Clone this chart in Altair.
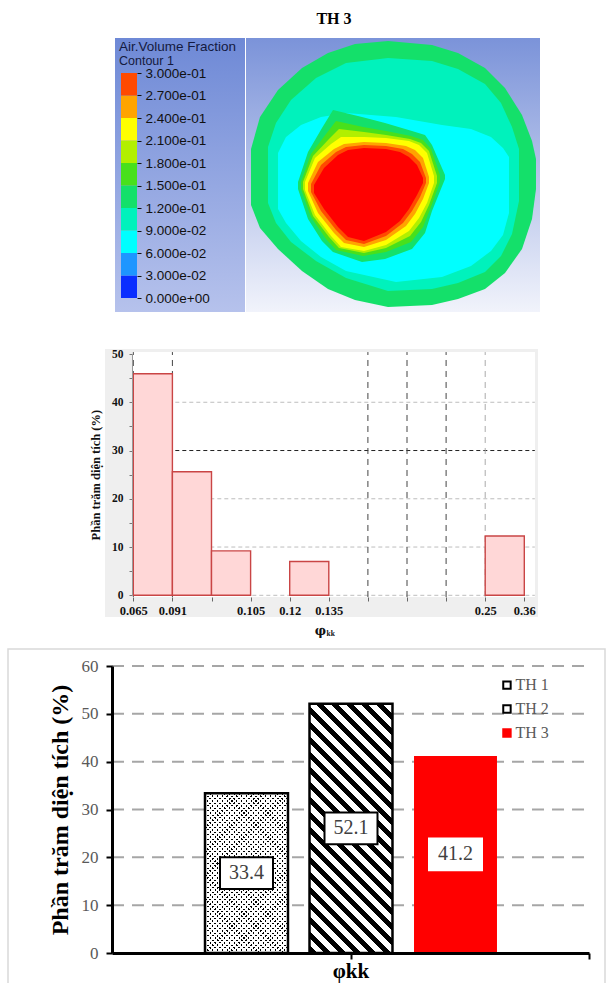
import json
import math
import altair as alt
import pandas as pd

# ======================= DATA =======================
# ---- top: CFD contour of air volume fraction (case TH 3) ----
cb_levels = [0.00, 0.03, 0.06, 0.09, 0.12, 0.15, 0.18, 0.21, 0.24, 0.27]
cb_colors = ["#0a2eff", "#1e96ff", "#00ffff", "#00f2bc", "#14e06a",
             "#48e01c", "#b2ef00", "#ffff00", "#ffa400", "#ff4a00"]
cb_tick_values = [0.0, 0.03, 0.06, 0.09, 0.12, 0.15, 0.18, 0.21, 0.24, 0.27, 0.30]
cb_tick_labels = ["0.000e+00", "3.000e-02", "6.000e-02", "9.000e-02", "1.200e-01",
                  "1.500e-01", "1.800e-01", "2.100e-01", "2.400e-01", "2.700e-01",
                  "3.000e-01"]

# contour regions: u = horizontal position in the image panel, top/bot = vertical extent
outer_u = [5, 14, 32, 56, 82, 109, 142, 186, 212, 239, 259, 276, 286, 290]
outer_top = [112, 80, 53, 31, 16, 7, 4, 8, 16, 31, 51, 78, 104, 122]
outer_bot = [168, 191, 212, 234, 252, 263, 270, 268, 262, 252, 236, 212, 182, 152]

aqua_u = [22, 30, 45, 70, 100, 142, 186, 212, 239, 255, 266, 273]
aqua_top = [110, 86, 63, 41, 26, 21, 24, 32, 47, 66, 90, 112]
aqua_bot = [166, 186, 205, 224, 241, 254, 252, 246, 235, 219, 197, 164]

cyan_u = [32, 40, 55, 75, 100, 150, 196, 225, 245, 257, 263]
cyan_top = [116, 100, 88, 80, 76, 80, 88, 92, 100, 111, 120]
cyan_bot = [172, 186, 204, 220, 234, 245, 240, 229, 214, 198, 176]

gblob_u = [52, 62, 76, 87, 116, 139, 166, 179, 186, 199]
gblob_top = [145, 115, 91, 73, 80, 86, 94, 98, 108, 138]
gblob_bot = [152, 182, 204, 215, 225, 222, 212, 196, 174, 142]

lime_u = [55, 65, 80, 90, 117, 140, 165, 177, 185, 194]
lime_top = [145, 117, 97, 84, 90, 94, 99, 103, 112, 138]
lime_bot = [152, 180, 202, 213, 219, 215, 205, 190, 170, 145]

yg_u = [57, 67, 83, 93, 118, 140, 164, 175, 183, 191]
yg_top = [145, 119, 102, 92, 95, 98, 102, 106, 114, 139]
yg_bot = [152, 179, 200, 211, 216, 211, 199, 185, 168, 146]

yel_u = [59, 69, 85, 95, 118, 140, 163, 173, 181, 188]
yel_top = [145, 121, 107, 100, 100, 101, 104, 108, 116, 139]
yel_bot = [153, 178, 199, 210, 214, 208, 194, 181, 166, 146]

ora_u = [62, 72, 88, 98, 118, 140, 160, 169, 177, 183]
ora_top = [146, 125, 112, 107, 105, 106, 109, 113, 121, 140]
ora_bot = [154, 176, 196, 206, 210, 203, 189, 177, 162, 146]

ror_u = [65, 75, 90, 100, 118, 140, 157, 166, 174, 180]
ror_top = [147, 128, 115, 110, 108, 109, 112, 117, 125, 141]
ror_bot = [155, 174, 193, 203, 207, 199, 186, 174, 160, 146]

red_u = [68, 78, 92, 102, 118, 140, 154, 163, 171, 177]
red_top = [148, 131, 118, 113, 111, 112, 115, 120, 128, 141]
red_bot = [156, 172, 190, 200, 204, 195, 184, 172, 158, 146]

# region name, arrays, band lower bound (colour from legend; 0.30 = above max)
regions = [
    ("outer", outer_u, outer_top, outer_bot, 0.12),
    ("aqua", aqua_u, aqua_top, aqua_bot, 0.09),
    ("cyan", cyan_u, cyan_top, cyan_bot, 0.06),
    ("gblob", gblob_u, gblob_top, gblob_bot, 0.12),
    ("lime", lime_u, lime_top, lime_bot, 0.15),
    ("yg", yg_u, yg_top, yg_bot, 0.18),
    ("yellow", yel_u, yel_top, yel_bot, 0.21),
    ("orange", ora_u, ora_top, ora_bot, 0.24),
    ("redorange", ror_u, ror_top, ror_bot, 0.27),
    ("red", red_u, red_top, red_bot, 0.30),
]

# ---- middle: histogram ----
hist_tick_labels = ["0.065", "0.091", "", "0.105", "0.12", "0.135", "", "", "", "0.25", "0.36"]
hist_values = [45.9, 25.6, 9.2, 0.0, 7.0, 0.0, 0.0, 0.0, 0.0, 12.3]
hist_grid_y = [0, 10, 20, 30, 40]
hist_grid_x = [0, 1, 6, 7, 8, 9]

# ---- bottom: bar chart ----
bar_series = ["TH 1", "TH 2", "TH 3"]
bar_values = [33.4, 52.1, 41.2]
bar_ticks = [0, 10, 20, 30, 40, 50, 60]
bar_grid = [10, 20, 30, 40, 50, 60]

# ======================= LAYOUT =======================
W, H = 608, 983
SERIF = "Liberation Serif"
SANS = "Liberation Sans"


def lin(domain, rng):
    return alt.Scale(domain=domain, range=rng, nice=False, zero=False)


one = pd.DataFrame({"k": [0]})
PX = lin([0, W], [0, W])
PY = lin([0, H], [0, H])


def vgrad(c0, c1):
    return {"gradient": "linear", "x1": 0, "y1": 0, "x2": 0, "y2": 1,
            "stops": [{"offset": 0, "color": c0}, {"offset": 1, "color": c1}]}


def panel(x0, x1, y0, y1, **mark):
    return alt.Chart(one).transform_calculate(
        a=str(x0), b=str(x1), c=str(y0), d=str(y1)
    ).mark_rect(**mark).encode(
        x=alt.X("a:Q", scale=PX, axis=None), x2="b:Q",
        y=alt.Y("c:Q", scale=PY, axis=None), y2="d:Q")


def ptext(x, y, txt, **mark):
    return alt.Chart(one).transform_calculate(a=str(x), c=str(y)).mark_text(
        text=txt, **mark).encode(
        x=alt.X("a:Q", scale=PX, axis=None), y=alt.Y("c:Q", scale=PY, axis=None))


decor = alt.layer(
    panel(115, 245, 38, 312, fill=vgrad("#6e89d6", "#b6c2ec")),
    panel(246, 540, 38, 312, fill=vgrad("#7b93d9", "#f1f3fb")),
    panel(105, 538, 349, 617, fill="#efefef"),
    panel(132, 535, 352, 597, fill="#ffffff"),
    panel(8, 605, 649, 1000, fill="transparent", stroke="#d9d9d9", strokeWidth=1.5),
    ptext(334, 19, "TH 3", font=SERIF, fontSize=16, fontWeight="bold", align="center", baseline="middle", color="black"),
    ptext(119, 47, "Air.Volume Fraction", font=SANS, fontSize=13.5, align="left", baseline="middle", color="#141a40"),
    ptext(119, 60.5, "Contour 1", font=SANS, fontSize=12.5, align="left", baseline="middle", color="#141a40"),
)

# ---- contour map ----
CX = lin([0, 294], [246, 540])
CY = lin([0, 275], [37, 312])
level_color = dict(zip(cb_levels, cb_colors))
level_color[0.30] = "#ff0000"
contour_layers = []
for name, us, tops, bots, lev in regions:
    df = pd.DataFrame({"u": us, "top": tops, "bot": bots})
    contour_layers.append(
        alt.Chart(df).mark_area(color=level_color[lev], interpolate="linear", opacity=1).encode(
            x=alt.X("u:Q", scale=CX, axis=None),
            y=alt.Y("top:Q", scale=CY, axis=None),
            y2="bot:Q"))
contour = alt.layer(*contour_layers)

# ---- colour bar ----
cb_label_expr = json.dumps(cb_tick_labels) + "[round(datum.value / 0.03)]"
colorbar = alt.Chart(pd.DataFrame({"lo": cb_levels})).transform_calculate(
    hi="datum.lo + 0.03", x0="0", x1="1"
).mark_rect().encode(
    x=alt.X("x0:Q", scale=lin([0, 1], [121, 137]), axis=None),
    x2="x1:Q",
    y=alt.Y("lo:Q", scale=lin([0, 0.3], [298, 73]),
            axis=alt.Axis(orient="right", offset=137 - W, values=cb_tick_values,
                          labelExpr=cb_label_expr, domain=False, grid=False,
                          ticks=True, tickSize=4, tickColor="#111", tickWidth=1,
                          labelFont=SANS, labelFontSize=13.5, labelColor="#111",
                          labelPadding=4, labelFlush=False, labelOverlap=False,
                          title=None, zindex=1)),
    y2="hi:Q",
    fill=alt.Color("lo:O", scale=alt.Scale(domain=cb_levels, range=cb_colors), legend=None),
)

# ---- histogram ----
HX = lin([0, 10], [133.3, 524.3])
HY = lin([0, 50], [595.3, 354.0])
hist_label_expr = json.dumps(hist_tick_labels) + "[round(datum.value)]"
HX_AXIS = alt.Axis(orient="bottom", offset=-(H - 597), values=list(range(11)),
                   labelExpr=hist_label_expr, domain=False, grid=False,
                   tickSize=4, tickColor="#666666", labelFont=SERIF,
                   labelFontSize=12.5, labelFontWeight="bold", labelColor="#111111",
                   labelPadding=3, labelFlush=False, labelOverlap=False,
                   title=None, zindex=1)
HY_AXIS = alt.Axis(orient="left", offset=-132, values=list(range(0, 51, 5)),
                   labelExpr="datum.value % 10 == 0 ? datum.label : ''",
                   domain=True, domainColor="#999999", domainWidth=1, grid=False,
                   tickSize=3, tickColor="#777777", labelFont=SERIF,
                   labelFontSize=11.5, labelFontWeight="bold", labelColor="#111111",
                   labelPadding=6, labelFlush=False,
                   title="Phần trăm diện tích (%)", titleFont=SERIF,
                   titleFontSize=12.5, titleFontWeight="bold", titleColor="#111111",
                   titlePadding=9, zindex=1)
hist_df = pd.DataFrame({"i": list(range(len(hist_values))), "value": hist_values})

h_rules = alt.Chart(pd.DataFrame({"v": hist_grid_y})).transform_calculate(
    a="0", b="10.27").mark_rule(strokeDash=[4, 3], strokeWidth=1).encode(
    x=alt.X("a:Q", scale=HX, axis=HX_AXIS), x2="b:Q",
    y=alt.Y("v:Q", scale=HY, axis=HY_AXIS),
    color=alt.condition("datum.v == 30", alt.value("#222222"), alt.value("#bdbdbd")))
v_rules = alt.Chart(pd.DataFrame({"u": hist_grid_x})).transform_calculate(
    a="-0.35", b="50.4").mark_rule(strokeDash=[6, 5], strokeWidth=1).encode(
    x=alt.X("u:Q", scale=HX, axis=HX_AXIS),
    y=alt.Y("a:Q", scale=HY, axis=HY_AXIS), y2="b:Q",
    color=alt.condition("datum.u == 9", alt.value("#aaaaaa"), alt.value("#444444")))
h_bars = alt.Chart(hist_df).transform_filter("datum.value > 0").transform_calculate(
    i1="datum.i + 1", base="0"
).mark_rect(fill="#ffd7d7", stroke="#c94545", strokeWidth=1.4).encode(
    x=alt.X("i:Q", scale=HX, axis=HX_AXIS),
    x2="i1:Q",
    y=alt.Y("value:Q", scale=HY, axis=HY_AXIS),
    y2="base:Q",
)
h_xtitle = alt.layer(
    alt.Chart(one).transform_calculate(a="4.93", c="-7.3").mark_text(
        text="φ", font="DejaVu Serif", fontSize=12.5, fontWeight="bold", align="right", baseline="middle", color="#111111"
    ).encode(x=alt.X("a:Q", scale=HX, axis=HX_AXIS), y=alt.Y("c:Q", scale=HY, axis=HY_AXIS)),
    alt.Chart(one).transform_calculate(a="4.94", c="-8.0").mark_text(
        text="kk", font=SERIF, fontSize=7.5, fontWeight="bold", align="left", baseline="middle", color="#111111"
    ).encode(x=alt.X("a:Q", scale=HX, axis=HX_AXIS), y=alt.Y("c:Q", scale=HY, axis=HY_AXIS)),
)
hist = alt.layer(h_rules, v_rules, h_bars, h_xtitle)

# ---- bar chart ----
BY = lin([0, 60], [953, 666])
BXA = lin([0, 1], [112, 589])
PER_UNIT = (953 - 666) / 60.0
BXS = alt.Scale(domain=bar_series, range=[194.25, 507.75], paddingInner=0.206, paddingOuter=0.103)
BAND_W = 313.5 / (3 - 0.206 + 2 * 0.103) * (1 - 0.206)

BX_AXIS = alt.Axis(orient="bottom", offset=-(H - 953), values=[0.5, 1.0],
                   labelExpr="datum.value == 0.5 ? 'φkk' : ''",
                   domain=True, domainColor="black", domainWidth=3, grid=False,
                   tickSize=6, tickWidth=2, tickColor="black", labelFont=SERIF,
                   labelFontSize=21, labelFontWeight="bold", labelColor="black",
                   labelPadding=1, labelFlush=False, labelOverlap=False,
                   title=None, zindex=1)
BY_AXIS = alt.Axis(orient="left", offset=-112, values=bar_ticks,
                   domain=True, domainColor="black", domainWidth=3, grid=False,
                   tickSize=6, tickWidth=2, tickColor="black", labelFont=SERIF,
                   labelFontSize=17, labelColor="#595959", labelPadding=8,
                   labelFlush=False, title="Phần trăm diện tích (%)",
                   titleFont=SERIF, titleFontSize=24, titleFontWeight="bold",
                   titleColor="black", titlePadding=9, zindex=1)


def stripes(w, h, period, frac, direction, c1, c2):
    k = h / w
    d = (1 + k) / (1 + k * k)
    if direction == "back":
        coords = {"x1": 0, "y1": 1, "x2": d, "y2": 1 - k * d}
    else:
        coords = {"x1": 0, "y1": 0, "x2": d, "y2": k * d}
    n = (w + h) / (math.sqrt(2) * period)
    stops = []
    i = 0
    while i / n < 1:
        a = i / n
        b = min((i + frac) / n, 1.0)
        c = min((i + 1) / n, 1.0)
        stops += [{"offset": a, "color": c1}, {"offset": b, "color": c1},
                  {"offset": b, "color": c2}, {"offset": c, "color": c2}]
        i += 1
    out = {"gradient": "linear", "stops": stops}
    out.update(coords)
    return out


bar_df = pd.DataFrame({"series": bar_series, "value": bar_values})
h1 = bar_values[0] * PER_UNIT
h2 = bar_values[1] * PER_UNIT
CLEAR = "rgba(255,255,255,0)"


def bar_layer(series, **mark):
    return alt.Chart(bar_df).transform_filter(f"datum.series == '{series}'").mark_bar(**mark).encode(
        x=alt.X("series:N", scale=BXS, axis=None),
        y=alt.Y("value:Q", scale=BY, axis=BY_AXIS))


bars = alt.layer(
    bar_layer(bar_series[0], fill="black"),
    bar_layer(bar_series[0], fill=stripes(BAND_W, h1, 3.4, 0.44, "fwd", CLEAR, "white")),
    bar_layer(bar_series[0], fill=stripes(BAND_W, h1, 3.4, 0.44, "back", CLEAR, "white"),
              stroke="black", strokeWidth=2.5),
    bar_layer(bar_series[1], fill=stripes(BAND_W, h2, 10.6, 0.5, "back", "black", "white"),
              stroke="black", strokeWidth=2.5),
    bar_layer(bar_series[2], fill="#ff0000"),
    alt.Chart(bar_df).transform_calculate(mid="datum.value / 2").mark_point(
        shape="M-1,-0.6L1,-0.6L1,0.6L-1,0.6Z", size=53 * 53, filled=True, fill="white",
        strokeWidth=2, opacity=1).encode(
        x=alt.X("series:N", scale=BXS, axis=None),
        y=alt.Y("mid:Q", scale=BY, axis=BY_AXIS),
        stroke=alt.condition("datum.series == 'TH 3'", alt.value("white"), alt.value("black"))),
    alt.Chart(bar_df).transform_calculate(mid="datum.value / 2").mark_text(
        font=SERIF, fontSize=20, color="#404040", baseline="middle", align="center").encode(
        x=alt.X("series:N", scale=BXS, axis=None),
        y=alt.Y("mid:Q", scale=BY, axis=BY_AXIS),
        text=alt.Text("value:Q", format=".1f")),
)

grid_b = alt.Chart(pd.DataFrame({"v": bar_grid})).transform_calculate(
    a="0", b="1").mark_rule(color="#a6a6a6", strokeWidth=2, strokeDash=[12, 8]).encode(
    x=alt.X("a:Q", scale=BXA, axis=BX_AXIS),
    x2="b:Q",
    y=alt.Y("v:Q", scale=BY, axis=BY_AXIS),
)

leg_base = alt.Chart(pd.DataFrame({"series": bar_series})).transform_window(
    idx="row_number()").transform_calculate(
    ly="56.0 - 5.0 * (datum.idx - 1)", mx="0.828", tx="0.846")
legend = alt.layer(
    leg_base.mark_point(shape="square", size=55, filled=True, strokeWidth=2, opacity=1).encode(
        x=alt.X("mx:Q", scale=BXA, axis=BX_AXIS),
        y=alt.Y("ly:Q", scale=BY, axis=BY_AXIS),
        fill=alt.condition("datum.series == 'TH 3'", alt.value("#ff0000"), alt.value("white")),
        stroke=alt.condition("datum.series == 'TH 3'", alt.value("#ff0000"), alt.value("black"))),
    leg_base.mark_text(font=SERIF, fontSize=16, color="#595959", align="left", baseline="middle").encode(
        x=alt.X("tx:Q", scale=BXA, axis=BX_AXIS),
        y=alt.Y("ly:Q", scale=BY, axis=BY_AXIS),
        text="series:N"),
)

bottom = alt.layer(alt.layer(grid_b, legend), bars).resolve_scale(x="independent")

chart = alt.layer(decor, contour, colorbar, hist, bottom).resolve_scale(
    x="independent", y="independent", fill="independent", stroke="independent", color="independent"
).properties(
    width=W, height=H, padding=0, autosize=alt.AutoSizeParams(type="none"), background="white"
).configure_view(stroke=None)

chart.save("out.html", embed_options={"renderer": "svg", "actions": False})
